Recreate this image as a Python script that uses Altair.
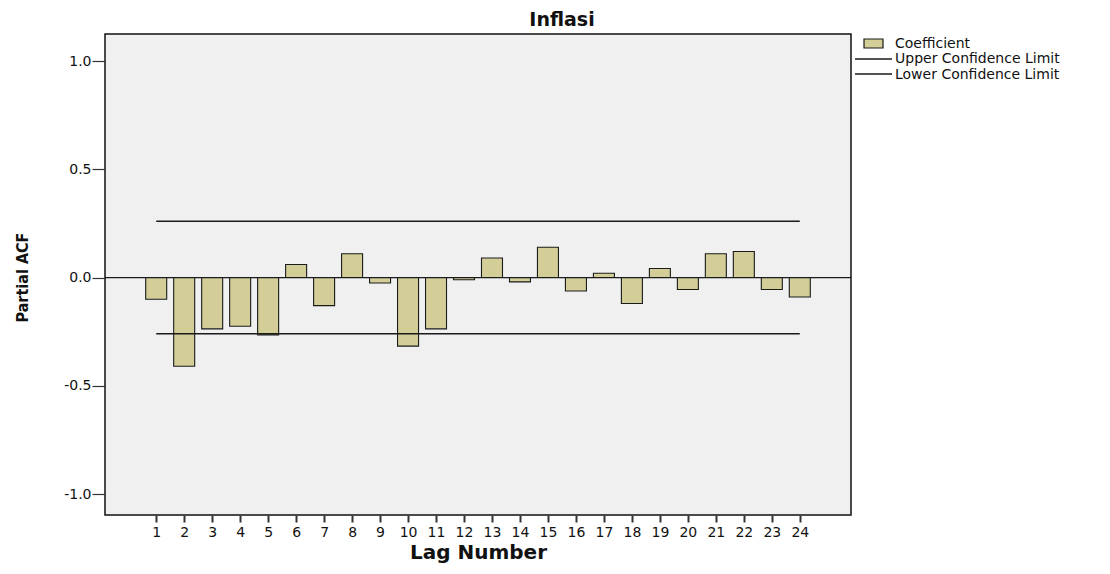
import altair as alt
import pandas as pd

# ---- data ----
lags = list(range(1, 25))
pacf = [-0.100, -0.410, -0.237, -0.225, -0.265, 0.060, -0.130, 0.110,
        -0.025, -0.317, -0.237, -0.010, 0.090, -0.020, 0.140, -0.062,
        0.020, -0.120, 0.042, -0.055, 0.110, 0.120, -0.055, -0.090]
ci_upper = 0.26
ci_lower = -0.26
y_ticks = [-1.0, -0.5, 0.0, 0.5, 1.0]
legend_labels = ["Coefficient", "Upper Confidence Limit", "Lower Confidence Limit"]
chart_title = "Inflasi"
x_title = "Lag Number"
y_title = "Partial ACF"

df = pd.DataFrame({"lag": lags, "pacf": pacf})
ci = pd.DataFrame({
    "start": [lags[0], lags[0]],
    "end": [lags[-1], lags[-1]],
    "limit": [ci_upper, ci_lower],
})
zero_df = pd.DataFrame({"z": [0.0]})

W, H = 746, 481
BAR_FILL = "#d3ce97"
LINE = "#1a1a1a"
FONT = "DejaVu Sans"

xscale = alt.Scale(domain=[-0.83, 25.83], nice=False, zero=False, padding=0)
yscale = alt.Scale(domain=[-1.097, 1.125], nice=False, zero=False, padding=0)

x_axis = alt.Axis(
    values=lags, title=x_title, grid=False, domain=False,
    tickSize=7, tickWidth=2, tickColor="#333",
    labelFont=FONT, labelFontSize=14, labelColor="#111", labelPadding=3,
    labelFlush=False, labelOverlap=False, labelBound=False,
    titleFont=FONT, titleFontSize=20, titleFontWeight="bold", titleColor="#111",
    titleX=W / 2, titleY=43, titleBaseline="alphabetic", titleAlign="center",
)
y_axis = alt.Axis(
    values=y_ticks, title=y_title, grid=False, domain=False,
    labelExpr="datum.value < 0 ? '-' + format(-datum.value, '.1f') : format(datum.value, '.1f')",
    tickSize=13, tickWidth=1.2, tickColor="#333",
    labelFont=FONT, labelFontSize=14, labelColor="#111", labelPadding=1,
    titleFont="DejaVu Sans Condensed, Liberation Sans, sans-serif", titleFontSize=16,
    titleFontWeight="bold",
    titleColor="#111", titleX=-78, titleY=243, titleAngle=270,
    titleBaseline="alphabetic", titleAlign="center",
)

bars = alt.Chart(df).mark_bar(
    size=21, fill=BAR_FILL, stroke=LINE, strokeWidth=1.1
).encode(
    x=alt.X("lag:Q", scale=xscale, axis=x_axis),
    y=alt.Y("pacf:Q", scale=yscale, axis=y_axis),
    y2=alt.datum(0),
)

zero_line = alt.Chart(zero_df).mark_rule(color=LINE, strokeWidth=1.3).encode(
    y=alt.Y("z:Q", scale=yscale, axis=y_axis),
    x=alt.value(0),
    x2=alt.value(W),
)

ci_lines = alt.Chart(ci).mark_rule(color=LINE, strokeWidth=1.5).encode(
    x=alt.X("start:Q", scale=xscale, axis=x_axis),
    x2="end:Q",
    y=alt.Y("limit:Q", scale=yscale, axis=y_axis),
)

# ---- manual legend (outside the plot, to the right) ----
one = pd.DataFrame({"k": [0]})
leg_swatch = alt.Chart(one).mark_rect(
    fill=BAR_FILL, stroke=LINE, strokeWidth=1.2, clip=False
).encode(x=alt.value(759), x2=alt.value(778), y=alt.value(5), y2=alt.value(14))
leg_up = alt.Chart(one).mark_rule(color=LINE, strokeWidth=1.3, clip=False).encode(
    x=alt.value(750), x2=alt.value(787), y=alt.value(25))
leg_lo = alt.Chart(one).mark_rule(color=LINE, strokeWidth=1.3, clip=False).encode(
    x=alt.value(750), x2=alt.value(787), y=alt.value(40))

def leg_text(label, ypos):
    return alt.Chart(pd.DataFrame({"t": [label]})).mark_text(
        align="left", baseline="middle", font=FONT, fontSize=14, color="#111",
        clip=False
    ).encode(text="t:N", x=alt.value(790), y=alt.value(ypos))

leg_texts = [leg_text(legend_labels[0], 10), leg_text(legend_labels[1], 25),
             leg_text(legend_labels[2], 41)]

title_df = pd.DataFrame({"t": [chart_title]})
title = alt.Chart(title_df).mark_text(
    align="center", baseline="alphabetic", font=FONT, fontSize=19,
    fontWeight="bold", color="#111", clip=False
).encode(text="t:N", x=alt.value(457), y=alt.value(-8))

chart = alt.layer(
    bars, zero_line, ci_lines, leg_swatch, leg_up, leg_lo, *leg_texts, title
).properties(
    width=W, height=H,
    autosize=alt.AutoSizeParams(type="none"),
    padding={"left": 97, "top": 26, "right": 250, "bottom": 49},
    background="white",
).configure_view(
    fill="#f0f0f0", stroke="#111", strokeWidth=1.5
)

chart.save("out.html", embed_options={"renderer": "svg", "actions": False})
